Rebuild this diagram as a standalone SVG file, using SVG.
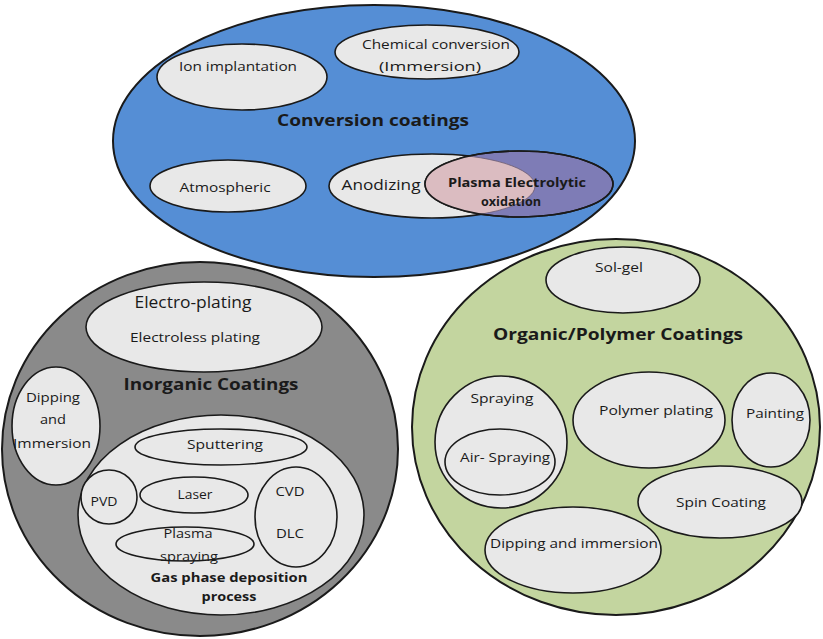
<svg xmlns="http://www.w3.org/2000/svg" width="823" height="639" viewBox="0 0 823 639">
<defs>
<style>
.outer{stroke:#1a1a1a;stroke-width:2}
.in{fill:#e8e8e8;stroke:#1a1a1a;stroke-width:1.6}
text{font-family:"Open Sans","Liberation Sans",sans-serif;fill:#1a1a1a;text-anchor:middle}
.t{font-size:12.5px}
.b{font-size:16px;font-weight:bold}
.sb{font-size:12.5px;font-weight:bold}
</style>
<clipPath id="anoClip"><ellipse cx="432" cy="186" rx="103" ry="32"/></clipPath>
<clipPath id="peoClip"><ellipse cx="519" cy="184" rx="94" ry="33"/></clipPath>
</defs>
<rect width="823" height="639" fill="#ffffff"/>

<g id="inorganic">
<ellipse class="outer" cx="200" cy="449" rx="198" ry="187" fill="#8a8a8a"/>
<text class="b" x="211" y="390" textLength="175" lengthAdjust="spacingAndGlyphs">Inorganic Coatings</text>
</g>
<g id="electroplating">
<ellipse class="in" cx="204" cy="327" rx="118" ry="45"/>
<text x="193" y="308" font-size="15.5" textLength="117" lengthAdjust="spacingAndGlyphs">Electro-plating</text>
<text class="t" x="195" y="342" textLength="130" lengthAdjust="spacingAndGlyphs">Electroless plating</text>
</g>
<g id="dipping-inorg">
<ellipse class="in" cx="56" cy="426" rx="44" ry="59"/>
<text class="t" x="53" y="402" textLength="54" lengthAdjust="spacingAndGlyphs">Dipping</text>
<text class="t" x="53" y="424" textLength="26" lengthAdjust="spacingAndGlyphs">and</text>
<text class="t" x="52" y="448" textLength="78" lengthAdjust="spacingAndGlyphs">Immersion</text>
</g>
<g id="gasphase">
<ellipse class="in" cx="221" cy="515" rx="143" ry="100"/>
<text class="sb" x="229" y="582" textLength="157" lengthAdjust="spacingAndGlyphs">Gas phase deposition</text>
<text class="sb" x="229" y="601" textLength="55" lengthAdjust="spacingAndGlyphs">process</text>
</g>
<g id="sputtering">
<ellipse class="in" cx="221" cy="447" rx="86" ry="18"/>
<text class="t" x="225" y="449" textLength="76" lengthAdjust="spacingAndGlyphs">Sputtering</text>
</g>
<g id="pvd">
<ellipse class="in" cx="109" cy="497" rx="28" ry="27"/>
<text class="t" x="104" y="506" textLength="27" lengthAdjust="spacingAndGlyphs">PVD</text>
</g>
<g id="laser">
<ellipse class="in" cx="194" cy="495" rx="54" ry="18"/>
<text class="t" x="195" y="499" textLength="35" lengthAdjust="spacingAndGlyphs">Laser</text>
</g>
<g id="plasmaspraying">
<ellipse class="in" cx="185" cy="544" rx="69" ry="17"/>
<text class="t" x="188" y="538" textLength="49" lengthAdjust="spacingAndGlyphs">Plasma</text>
<text class="t" x="189" y="561" textLength="58" lengthAdjust="spacingAndGlyphs">spraying</text>
</g>
<g id="cvd">
<ellipse class="in" cx="296" cy="517" rx="41" ry="50"/>
<text class="t" x="290" y="496" textLength="29" lengthAdjust="spacingAndGlyphs">CVD</text>
<text class="t" x="290" y="538" textLength="28" lengthAdjust="spacingAndGlyphs">DLC</text>
</g>

<g id="organic">
<ellipse class="outer" cx="616" cy="427" rx="204" ry="188" fill="#c3d59f"/>
<text class="b" x="618" y="340" textLength="250" lengthAdjust="spacingAndGlyphs">Organic/Polymer Coatings</text>
</g>
<g id="solgel">
<ellipse class="in" cx="623" cy="280" rx="77" ry="33"/>
<text class="t" x="619" y="272" textLength="48" lengthAdjust="spacingAndGlyphs">Sol-gel</text>
</g>
<g id="spraying">
<ellipse class="in" cx="501" cy="442" rx="66" ry="66"/>
<text class="t" x="502" y="403" textLength="63" lengthAdjust="spacingAndGlyphs">Spraying</text>
</g>
<g id="airspraying">
<ellipse class="in" cx="500" cy="462" rx="55" ry="33"/>
<text class="t" x="505" y="462" textLength="90" lengthAdjust="spacingAndGlyphs">Air- Spraying</text>
</g>
<g id="polymerplating">
<ellipse class="in" cx="649" cy="420" rx="76" ry="48"/>
<text class="t" x="656" y="415" textLength="114" lengthAdjust="spacingAndGlyphs">Polymer plating</text>
</g>
<g id="painting">
<ellipse class="in" cx="771" cy="420" rx="39" ry="47"/>
<text class="t" x="775" y="418" textLength="58" lengthAdjust="spacingAndGlyphs">Painting</text>
</g>
<g id="spincoating">
<ellipse class="in" cx="720" cy="502" rx="82" ry="36"/>
<text class="t" x="721" y="507" textLength="90" lengthAdjust="spacingAndGlyphs">Spin Coating</text>
</g>
<g id="dipping-org">
<ellipse class="in" cx="573" cy="550" rx="88" ry="43"/>
<text class="t" x="574" y="548" textLength="168" lengthAdjust="spacingAndGlyphs">Dipping and immersion</text>
</g>

<g id="conversion">
<ellipse class="outer" cx="374" cy="141" rx="261" ry="136" fill="#558ed5"/>
<text class="b" x="373" y="126" textLength="192" lengthAdjust="spacingAndGlyphs">Conversion coatings</text>
</g>
<g id="ion">
<ellipse class="in" cx="242" cy="77" rx="85" ry="33"/>
<text class="t" x="238" y="71" textLength="118" lengthAdjust="spacingAndGlyphs">Ion implantation</text>
</g>
<g id="chemical">
<ellipse class="in" cx="427" cy="52" rx="92" ry="27"/>
<text class="t" x="436" y="49" textLength="148" lengthAdjust="spacingAndGlyphs">Chemical conversion</text>
<text class="t" x="430" y="71" textLength="102" lengthAdjust="spacingAndGlyphs">(Immersion)</text>
</g>
<g id="atmospheric">
<ellipse class="in" cx="228" cy="186" rx="78" ry="26"/>
<text class="t" x="225" y="192" textLength="91" lengthAdjust="spacingAndGlyphs">Atmospheric</text>
</g>
<g id="anodizing">
<ellipse class="in" cx="432" cy="186" rx="103" ry="32"/>
<text x="381" y="190" font-size="14.5" textLength="79" lengthAdjust="spacingAndGlyphs">Anodizing</text>
</g>
<g id="peo">
<ellipse cx="519" cy="184" rx="94" ry="33" fill="#7e7cb6" stroke="#1a1a1a" stroke-width="1.6"/>
<ellipse cx="519" cy="184" rx="94" ry="33" fill="#dbbcc1" clip-path="url(#anoClip)"/>
<ellipse cx="432" cy="186" rx="103" ry="32" fill="none" stroke="#6a5a70" stroke-width="0.8" clip-path="url(#peoClip)"/>
<ellipse cx="519" cy="184" rx="94" ry="33" fill="none" stroke="#1a1a1a" stroke-width="1.6"/>
<text class="sb" x="517" y="187" textLength="138" lengthAdjust="spacingAndGlyphs">Plasma Electrolytic</text>
<text class="sb" x="511" y="206" font-size="13.5" textLength="60" lengthAdjust="spacingAndGlyphs">oxidation</text>
</g>
<g id="connectors"></g>
</svg>
